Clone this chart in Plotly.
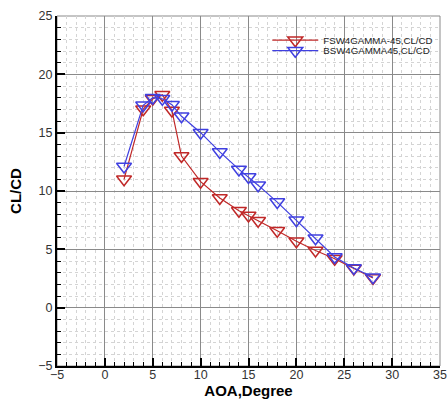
import plotly.graph_objects as go

aoa_fsw = [2, 4, 5, 6, 7, 8, 10, 12, 14, 15, 16, 18, 20, 22, 24, 26, 28]
clcd_fsw = [11.0, 17.0, 17.9, 18.25, 16.9, 13.0, 10.8, 9.4, 8.3, 7.9, 7.45, 6.6, 5.7, 4.9, 4.2, 3.35, 2.55]
aoa_bsw = [2, 4, 5, 6, 7, 8, 10, 12, 14, 15, 16, 18, 20, 22, 24, 26, 28]
clcd_bsw = [12.1, 17.35, 18.0, 17.9, 17.4, 16.4, 15.0, 13.35, 11.85, 11.2, 10.5, 9.05, 7.5, 5.95, 4.35, 3.4, 2.6]
x_ticks = [-5, 0, 5, 10, 15, 20, 25, 30, 35]
y_ticks = [-5, 0, 5, 10, 15, 20, 25]

RED = "#c02828"
BLUE = "#4040e0"
FONT = "Arial, Liberation Sans, sans-serif"

fig = go.Figure()
fig.add_trace(go.Scatter(
    x=aoa_fsw, y=clcd_fsw, mode="lines+markers", name="FSW4GAMMA-45,CL/CD",
    line=dict(color=RED, width=1.2), legend="legend",
    marker=dict(symbol="triangle-down-open", size=13, color=RED, line=dict(width=1.5, color=RED)),
))
fig.add_trace(go.Scatter(
    x=aoa_bsw, y=clcd_bsw, mode="lines+markers", name="BSW4GAMMA45,CL/CD",
    line=dict(color=BLUE, width=1.2), legend="legend2",
    marker=dict(symbol="triangle-down-open", size=13, color=BLUE, line=dict(width=1.5, color=BLUE)),
))

axis_common = dict(
    showline=True, linecolor="black", linewidth=2, mirror=False,
    ticks="inside", ticklen=8, tickwidth=2, tickcolor="black",
    showgrid=True, gridcolor="#8a8a8a", gridwidth=1,
    zeroline=False, automargin=False, ticklabeloverflow="allow",
    tickfont=dict(family=FONT, size=12.5, color="#333"),
    minor=dict(dtick=1, ticks="inside", ticklen=4, tickwidth=1.2, tickcolor="black",
               showgrid=True, gridcolor="#d4d4d4", griddash="dot", gridwidth=1),
)

fig.update_xaxes(range=[-5, 35], tickvals=x_ticks, ticklabelstandoff=-4,
                 title=dict(text="<b>AOA,Degree</b>", font=dict(family=FONT, size=15, color="black"), standoff=0),
                 **axis_common)
fig.update_yaxes(range=[-5, 25], tickvals=y_ticks,
                 title=dict(text="<b>CL/CD</b>", font=dict(family=FONT, size=15, color="black"), standoff=13),
                 **axis_common)

fig.add_shape(type="rect", xref="paper", yref="paper", x0=0, y0=0, x1=1, y1=1,
              line=dict(color="#8a8a8a", width=1), layer="below")

legend_common = dict(xanchor="left", yanchor="middle", bgcolor="rgba(0,0,0,0)",
                     font=dict(family=FONT, size=9.7, color="#222"),
                     tracegroupgap=0, itemwidth=46)

fig.update_layout(
    width=447, height=399,
    margin=dict(l=57, r=7, t=16, b=33, autoexpand=False),
    plot_bgcolor="white", paper_bgcolor="white",
    showlegend=True,
    legend=dict(x=0.549, y=0.931, **legend_common),
    legend2=dict(x=0.549, y=0.901, **legend_common),
)

fig.write_html("out.html", post_script="document.body.style.margin='0';",
               config={"displayModeBar": False})
